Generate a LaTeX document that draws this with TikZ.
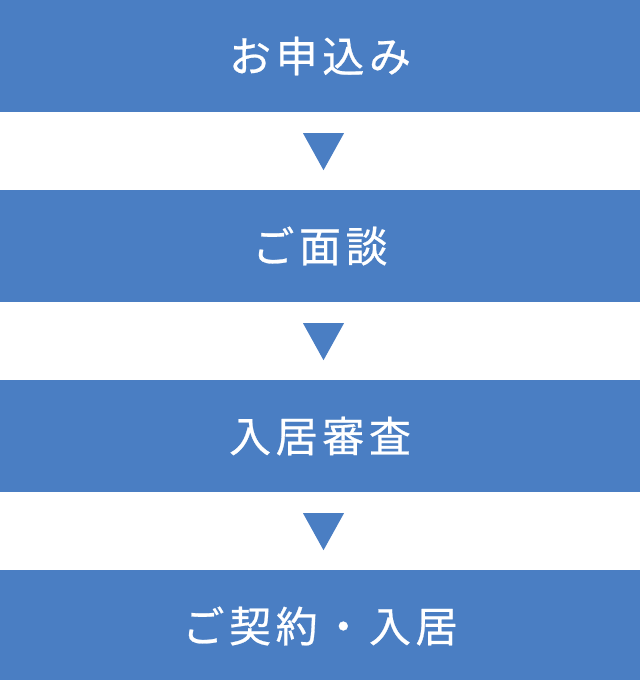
\documentclass[tikz,border=0pt]{standalone}
\usepackage{fontspec}
\newfontfamily\jpfont[LetterSpace=11,FakeBold=0.6]{Noto Sans CJK JP}
\usetikzlibrary{positioning}

\definecolor{stepblue}{RGB}{74,126,195}

\begin{document}
\begin{tikzpicture}[x=1pt,y=1pt,node distance=190pt,on grid,
  stepbox/.style={fill=stepblue,text=white,inner sep=0pt,
    minimum width=640pt,minimum height=112pt,
    font=\jpfont\fontsize{42}{48}\selectfont},
  downtri/.style={fill=stepblue}]
\useasboundingbox (0,0) rectangle (640,-680);
\node[stepbox] (apply) at (320,-56) {お申込み};
\node[stepbox] (meet) [below=of apply] {ご面談};
\node[stepbox] (check) [below=of meet] {入居審査};
\node[stepbox] (sign) [below=of check] {ご契約・入居};
% arrows between the steps
\foreach \a in {apply,meet,check}
  \fill[downtri] ([shift={(-17,-21)}]\a.south) -- ++(41,0) -- ++(-20.5,-37) -- cycle;
\end{tikzpicture}
\end{document}
